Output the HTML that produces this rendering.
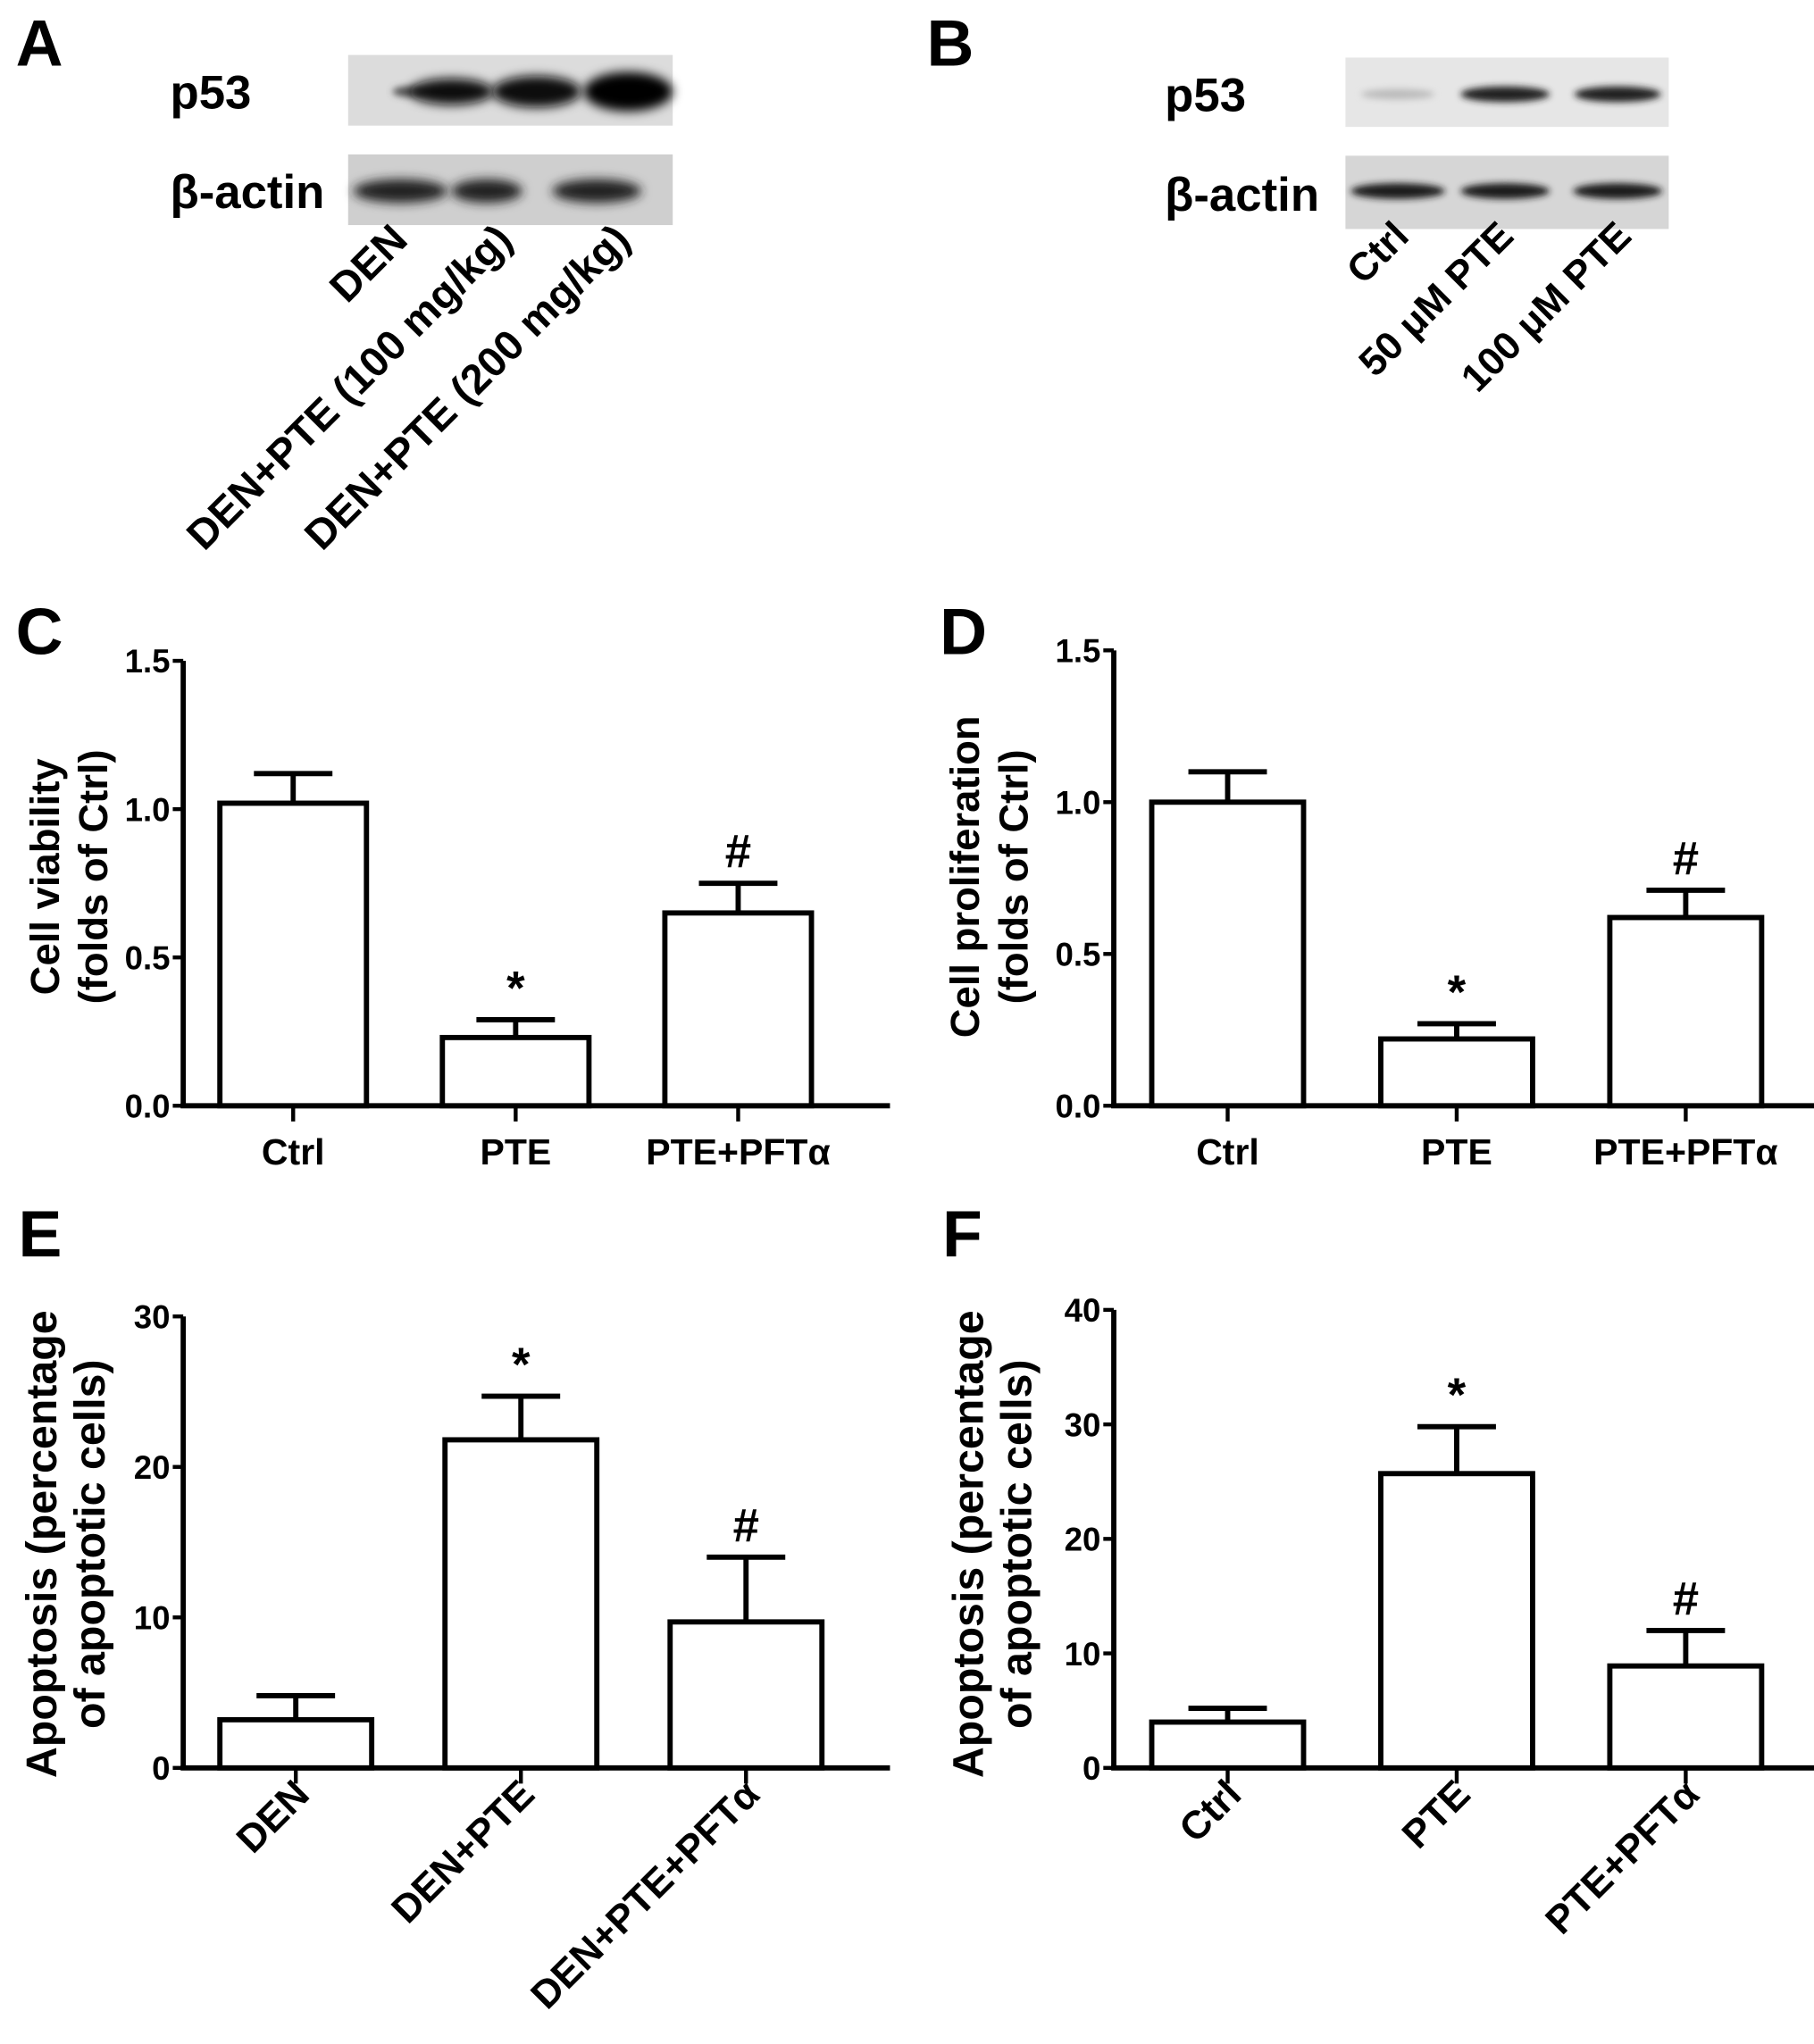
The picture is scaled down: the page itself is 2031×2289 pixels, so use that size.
<!DOCTYPE html>
<html><head><meta charset="utf-8"><style>
html,body{margin:0;padding:0;background:#fff;}
svg{display:block;}
text{font-family:"Liberation Sans",sans-serif;font-weight:bold;fill:#000;}
.tick{font-family:"Liberation Sans Narrow","Liberation Sans",sans-serif;font-size:25px;}
</style></head><body>
<svg id="fig" xmlns="http://www.w3.org/2000/svg" width="2031" height="2289" viewBox="0 0 1386 1562" preserveAspectRatio="none">
<defs>
<filter id="blur" x="-50%" y="-100%" width="200%" height="300%"><feGaussianBlur stdDeviation="4"/></filter>
<filter id="blur2" x="-50%" y="-100%" width="200%" height="300%"><feGaussianBlur stdDeviation="2.5"/></filter>
</defs>
<text x="12" y="50" font-size="50">A</text>
<text x="708" y="50" font-size="50">B</text>
<text x="12" y="500" font-size="50">C</text>
<text x="718" y="500" font-size="50">D</text>
<text x="14" y="960" font-size="50">E</text>
<text x="720" y="960" font-size="50">F</text>

<g>
<text x="130" y="83" font-size="36">p53</text>
<text x="130" y="159" font-size="36">β-actin</text>
<rect x="266" y="42" width="248" height="54" fill="#dcdcdc"/>
<ellipse cx="312" cy="70" rx="12" ry="4" fill="#555" filter="url(#blur2)"/>
<ellipse cx="345" cy="70" rx="32" ry="10" fill="#111" filter="url(#blur)"/>
<ellipse cx="410" cy="70" rx="34" ry="12" fill="#111" filter="url(#blur)"/>
<ellipse cx="480" cy="70" rx="34" ry="15" fill="#000" filter="url(#blur)"/>
<rect x="266" y="118" width="248" height="54" fill="#cfcfcf"/>
<ellipse cx="306" cy="146" rx="36" ry="9" fill="#222" filter="url(#blur)"/>
<ellipse cx="372" cy="146" rx="27" ry="9" fill="#222" filter="url(#blur)"/>
<ellipse cx="456" cy="146" rx="34" ry="9" fill="#222" filter="url(#blur)"/>
<text font-size="32" text-anchor="end" transform="translate(313,185) rotate(-45)">DEN</text>
<text font-size="32" text-anchor="end" transform="translate(393,185) rotate(-45)">DEN+PTE (100 mg/kg)</text>
<text font-size="32" text-anchor="end" transform="translate(483,185) rotate(-45)">DEN+PTE (200 mg/kg)</text>
</g>

<g>
<text x="890" y="85" font-size="36">p53</text>
<text x="890" y="161" font-size="36">β-actin</text>
<rect x="1028" y="44" width="247" height="53" fill="#e6e6e6"/>
<ellipse cx="1068" cy="72" rx="28" ry="4" fill="#bbb" filter="url(#blur2)"/>
<ellipse cx="1150" cy="72" rx="34" ry="6" fill="#222" filter="url(#blur2)"/>
<ellipse cx="1236" cy="72" rx="33" ry="6" fill="#222" filter="url(#blur2)"/>
<rect x="1028" y="119" width="247" height="56" fill="#d6d6d6"/>
<ellipse cx="1068" cy="146" rx="36" ry="6" fill="#1a1a1a" filter="url(#blur2)"/>
<ellipse cx="1150" cy="146" rx="34" ry="6" fill="#1a1a1a" filter="url(#blur2)"/>
<ellipse cx="1236" cy="146" rx="34" ry="6" fill="#1a1a1a" filter="url(#blur2)"/>
<text font-size="30" text-anchor="end" transform="translate(1078,182) rotate(-45)">Ctrl</text>
<text font-size="30" text-anchor="end" transform="translate(1158,182) rotate(-45)">50 μM PTE</text>
<text font-size="30" text-anchor="end" transform="translate(1248,182) rotate(-45)">100 μM PTE</text>
</g>
<g id="charts"></g>
</svg>
<script>
// Panel C
const cCategories = ["Ctrl", "PTE", "PTE+PFTα"];
const cValues = [1.02, 0.23, 0.65];
const cErrors = [0.10, 0.06, 0.10];
const cMarks = ["", "*", "#"];
const cTicks = ["0.0", "0.5", "1.0", "1.5"];
// Panel D
const dCategories = ["Ctrl", "PTE", "PTE+PFTα"];
const dValues = [1.00, 0.22, 0.62];
const dErrors = [0.10, 0.05, 0.09];
const dMarks = ["", "*", "#"];
const dTicks = ["0.0", "0.5", "1.0", "1.5"];
// Panel E
const eCategories = ["DEN", "DEN+PTE", "DEN+PTE+PFTα"];
const eValues = [3.2, 21.8, 9.7];
const eErrors = [1.6, 2.9, 4.3];
const eMarks = ["", "*", "#"];
const eTicks = ["0", "10", "20", "30"];
// Panel F
const fCategories = ["Ctrl", "PTE", "PTE+PFTα"];
const fValues = [4.0, 25.7, 8.9];
const fErrors = [1.2, 4.1, 3.1];
const fMarks = ["", "*", "#"];
const fTicks = ["0", "10", "20", "30", "40"];

const NS = "http://www.w3.org/2000/svg";
const root = document.getElementById("charts");
function mk(tag, attrs, parent){
  const e = document.createElementNS(NS, tag);
  for (const k in attrs) e.setAttribute(k, attrs[k]);
  parent.appendChild(e);
  return e;
}
function chart(cfg){
  const g = mk("g", {}, root);
  
  
  const tickVals = cfg.ticks.map(Number);
  const maxV = tickVals[tickVals.length-1];
  const y = v => cfg.y0 - (v / maxV) * (cfg.y0 - cfg.yTop);
  const xc = i => cfg.x0 + cfg.pad + cfg.step * i;
  const bw = cfg.bw;
  const sw = 4;
  const ya = mk("line", {x1:cfg.x0, y1:cfg.yTop, x2:cfg.x0, y2:cfg.y0, stroke:"#000","stroke-width":sw}, g);
  
  
  const xa = mk("line", {x1:cfg.x0-2, y1:cfg.y0, x2:cfg.xEnd, y2:cfg.y0, stroke:"#000","stroke-width":sw}, g);
  
  
  cfg.ticks.forEach((t) => {
    const yy = y(Number(t));
    mk("line", {x1:cfg.x0-8, y1:yy, x2:cfg.x0, y2:yy, stroke:"#000","stroke-width":3}, g);
    const tl = mk("text", {x:cfg.x0-10, y:yy+9, "text-anchor":"end", class:"tick"}, g);
    
    
    tl.textContent = t;
  });
  cfg.cats.forEach((c, i) => {
    const cx = xc(i);
    const top = y(cfg.vals[i]);
    const eTop = y(cfg.vals[i] + cfg.errs[i]);
    const bar = mk("rect", {x:cx-bw/2, y:top, width:bw, height:cfg.y0-top, fill:"#fff", stroke:"#000","stroke-width":sw}, g);
    
    
    const eb = mk("path", {d:`M${cx},${top} V${eTop} M${cx-30},${eTop} H${cx+30}`, stroke:"#000","stroke-width":sw,fill:"none"}, g);
    
    
    mk("line", {x1:cx, y1:cfg.y0, x2:cx, y2:cfg.y0+12, stroke:"#000","stroke-width":3}, g);
    if (cfg.marks[i]) {
      const m = mk("text", {x:cx, y:eTop-12, "text-anchor":"middle","font-size":36}, g);
      
      
      m.textContent = cfg.marks[i];
    }
    let lab;
    if (cfg.rot) {
      lab = mk("text", {"text-anchor":"end","font-size":30, transform:`translate(${cx+12},${cfg.y0+22}) rotate(-45)`}, g);
    } else {
      lab = mk("text", {x:cx, y:cfg.y0+45, "text-anchor":"middle","font-size":28}, g);
    }
    
    
    lab.textContent = c;
  });
  cfg.title.forEach((line, k) => {
    const tx = mk("text", {"text-anchor":"middle","font-size":cfg.tfs, transform:`translate(${cfg.titleX + k*37},${cfg.titleY}) rotate(-90)`}, g);
    
    
    tx.textContent = line;
  });
}
chart({name:"chart-c-cell-viability", cats:cCategories, vals:cValues, errs:cErrors, marks:cMarks, ticks:cTicks,
  x0:140, xEnd:680, pad:84, step:170, y0:845, yTop:505, bw:112, rot:false, tfs:31, title:["Cell viability","(folds of Ctrl)"], titleX:45, titleY:670});
chart({name:"chart-d-cell-proliferation", cats:dCategories, vals:dValues, errs:dErrors, marks:dMarks, ticks:dTicks,
  x0:851, xEnd:1390, pad:87, step:175, y0:845, yTop:497, bw:116, rot:false, tfs:31, title:["Cell proliferation","(folds of Ctrl)"], titleX:748, titleY:670});
chart({name:"chart-e-apoptosis", cats:eCategories, vals:eValues, errs:eErrors, marks:eMarks, ticks:eTicks,
  x0:140, xEnd:680, pad:86, step:172, y0:1351, yTop:1006, bw:116, rot:true, tfs:33, title:["Apoptosis (percentage","of apoptotic cells)"], titleX:43, titleY:1180});
chart({name:"chart-f-apoptosis", cats:fCategories, vals:fValues, errs:fErrors, marks:fMarks, ticks:fTicks,
  x0:851, xEnd:1390, pad:87, step:175, y0:1351, yTop:1001, bw:116, rot:true, tfs:33, title:["Apoptosis (percentage","of apoptotic cells)"], titleX:751, titleY:1180});
</script>
</body></html>
